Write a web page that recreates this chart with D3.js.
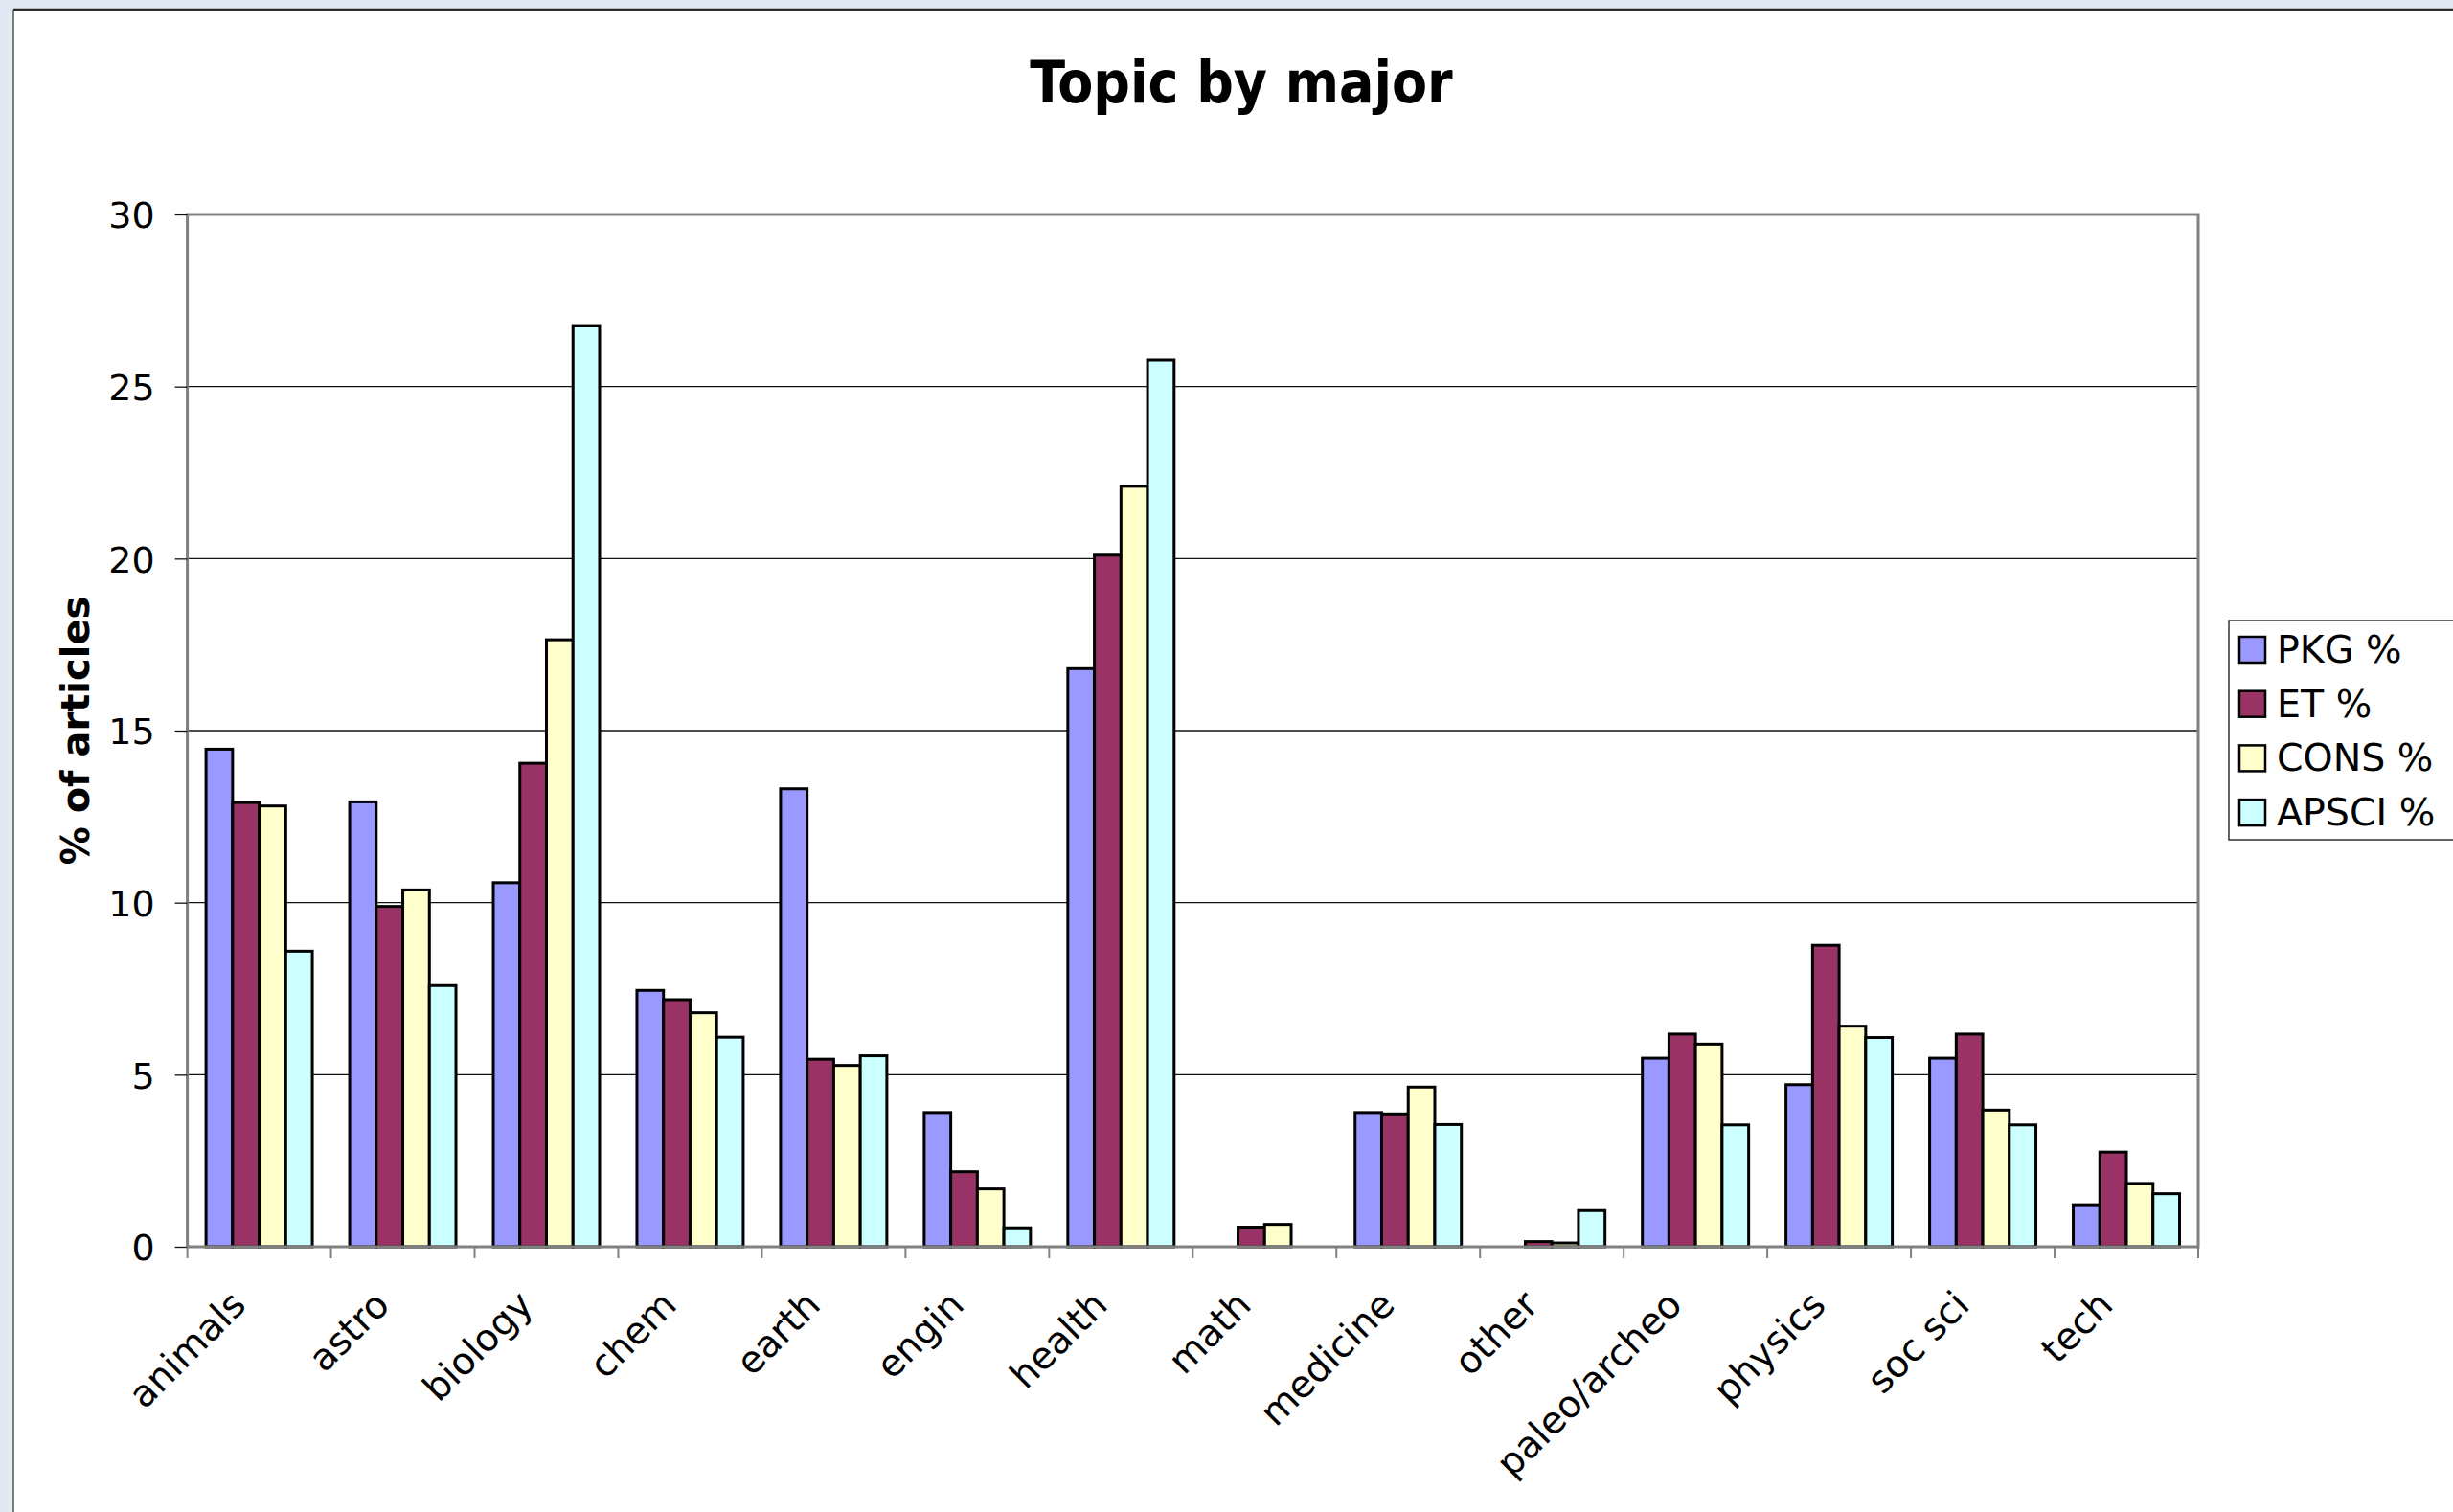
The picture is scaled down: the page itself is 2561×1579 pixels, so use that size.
<!DOCTYPE html>
<html>
<head>
  <meta charset="utf-8">
  <title>Topic by major</title>
  <script src="https://d3js.org/d3.v7.min.js"></script>
  <style>
    body {
      margin: 0;
      background: #e2e9f2;
      overflow: hidden;
    }
    text {
      font-family: "DejaVu Sans", Verdana, sans-serif;
      fill: #000;
    }
  </style>
</head>
<body>
  <div id="chart"></div>
  <script>
    // categories and series
    var categories = ["animals", "astro", "biology", "chem", "earth", "engin", "health",
                      "math", "medicine", "other", "paleo/archeo", "physics", "soc sci", "tech"];
    var seriesNames = ["PKG %", "ET %", "CONS %", "APSCI %"];
    var seriesColors = ["#9999ff", "#993366", "#ffffcc", "#ccffff"];

    var pkg   = [14.46, 12.93, 10.58, 7.45, 13.31, 3.90, 16.80, 0,    3.90, 0,    5.48, 4.71, 5.48, 1.22];
    var et    = [12.91,  9.89, 14.05, 7.18,  5.45, 2.18, 20.10, 0.57, 3.86, 0.15, 6.18, 8.76, 6.18, 2.75];
    var cons  = [12.81, 10.37, 17.64, 6.80,  5.27, 1.68, 22.10, 0.65, 4.64, 0.11, 5.89, 6.41, 3.97, 1.84];
    var apsci = [ 8.59,  7.59, 26.77, 6.09,  5.55, 0.55, 25.77, 0,    3.55, 1.05, 3.54, 6.08, 3.54, 1.54];
    var yTicks = [0, 5, 10, 15, 20, 25, 30];

    var series = [pkg, et, cons, apsci];

    var W = 2561, H = 1579;
    var margin = {top: 224, right: 266, bottom: 277, left: 195.6};
    var plotW = W - margin.left - margin.right;
    var plotH = H - margin.top - margin.bottom;

    var svg = d3.select("#chart")
      .append("svg")
      .attr("width", W)
      .attr("height", H)
      .style("display", "block");

    // white chart panel over the blue page background
    svg.append("rect")
      .attr("x", 14).attr("y", 10)
      .attr("width", W).attr("height", H)
      .attr("fill", "#fff");
    svg.append("line")
      .attr("x1", 14).attr("x2", W).attr("y1", 10).attr("y2", 10)
      .attr("stroke", "#2a2a2a").attr("stroke-width", 2.5);
    svg.append("line")
      .attr("x1", 14).attr("x2", 14).attr("y1", 10).attr("y2", H)
      .attr("stroke", "#555").attr("stroke-width", 1.5);

    var g = svg.append("g")
      .attr("transform", "translate(" + margin.left + "," + margin.top + ")");

    var x0 = d3.scaleBand()
      .domain(categories)
      .range([0, plotW]);

    var bw = x0.bandwidth();
    var x1 = d3.scaleBand()
      .domain(seriesNames)
      .range([bw * 0.13, bw * 0.87]);

    var y = d3.scaleLinear()
      .domain([0, 30])
      .range([plotH, 0]);

    // gridlines
    g.selectAll(".grid")
      .data(yTicks.filter(function(d) { return d > 0 && d < 30; }))
      .enter()
      .append("line")
      .attr("class", "grid")
      .attr("x1", 0).attr("x2", plotW)
      .attr("y1", function(d) { return y(d); })
      .attr("y2", function(d) { return y(d); })
      .attr("stroke", "#111")
      .attr("stroke-width", 1.3);

    // bars
    var groups = g.selectAll(".cat")
      .data(categories)
      .enter()
      .append("g")
      .attr("class", "cat")
      .attr("transform", function(d) { return "translate(" + x0(d) + ",0)"; });

    groups.selectAll("rect")
      .data(function(d, i) {
        return seriesNames.map(function(s, j) { return {s: s, j: j, v: series[j][i]}; })
          .filter(function(e) { return e.v > 0; });
      })
      .enter()
      .append("rect")
      .attr("x", function(d) { return x1(d.s); })
      .attr("width", x1.bandwidth())
      .attr("y", function(d) { return y(d.v); })
      .attr("height", function(d) { return plotH - y(d.v); })
      .attr("fill", function(d) { return seriesColors[d.j]; })
      .attr("stroke", "#000")
      .attr("stroke-width", 3);

    // plot frame
    g.append("rect")
      .attr("x", 0).attr("y", 0)
      .attr("width", plotW).attr("height", plotH)
      .attr("fill", "none")
      .attr("stroke", "#808080")
      .attr("stroke-width", 3);

    // y axis
    var yAxis = g.append("g")
      .call(d3.axisLeft(y).tickValues(yTicks).tickSize(13).tickPadding(21));
    yAxis.select(".domain").remove();
    yAxis.selectAll("line").attr("stroke", "#111").attr("stroke-width", 1.3);
    yAxis.selectAll("text")
      .style("font-family", "'DejaVu Sans', Verdana, sans-serif")
      .style("font-size", "38px")
      .attr("dy", "0.36em");

    // x axis tick marks at category boundaries
    g.selectAll(".xtick")
      .data(categories.concat(["__end"]))
      .enter()
      .append("line")
      .attr("class", "xtick")
      .attr("x1", function(d) { return d === "__end" ? plotW : x0(d); })
      .attr("x2", function(d) { return d === "__end" ? plotW : x0(d); })
      .attr("y1", plotH)
      .attr("y2", plotH + 12)
      .attr("stroke", "#808080")
      .attr("stroke-width", 2);

    var xAxis = g.append("g")
      .attr("transform", "translate(0," + plotH + ")")
      .call(d3.axisBottom(x0).tickSize(0));
    xAxis.select(".domain").remove();
    xAxis.selectAll("text")
      .style("font-family", "'DejaVu Sans', Verdana, sans-serif")
      .style("font-size", "39px")
      .attr("text-anchor", "end")
      .attr("x", null).attr("y", null).attr("dy", null)
      .attr("transform", "translate(-12,63) rotate(-45)");

    // title
    svg.append("text")
      .attr("x", 1296)
      .attr("y", 107)
      .attr("text-anchor", "middle")
      .style("font-family", "'DejaVu Sans Condensed', 'Liberation Sans', sans-serif")
      .style("font-weight", "bold")
      .style("font-size", "60px")
      .text("Topic by major");

    // y label
    svg.append("text")
      .attr("transform", "translate(93," + (margin.top + plotH / 2) + ") rotate(-90)")
      .attr("text-anchor", "middle")
      .style("font-weight", "bold")
      .style("font-size", "40px")
      .text("% of articles");

    // legend
    var legend = svg.append("g");
    legend.append("rect")
      .attr("x", 2327).attr("y", 648)
      .attr("width", 400).attr("height", 229)
      .attr("fill", "#fff")
      .attr("stroke", "#333")
      .attr("stroke-width", 1.5);

    var items = legend.selectAll(".item")
      .data(seriesNames)
      .enter()
      .append("g")
      .attr("class", "item")
      .attr("transform", function(d, i) { return "translate(2338," + (692 + i * 56.7) + ")"; });

    items.append("rect")
      .attr("x", 0).attr("y", -27)
      .attr("width", 27).attr("height", 27)
      .attr("fill", function(d, i) { return seriesColors[i]; })
      .attr("stroke", "#000")
      .attr("stroke-width", 2.5);

    items.append("text")
      .attr("x", 39)
      .attr("y", 0)
      .style("font-size", "39.5px")
      .text(function(d) { return d; });
  </script>
</body>
</html>
